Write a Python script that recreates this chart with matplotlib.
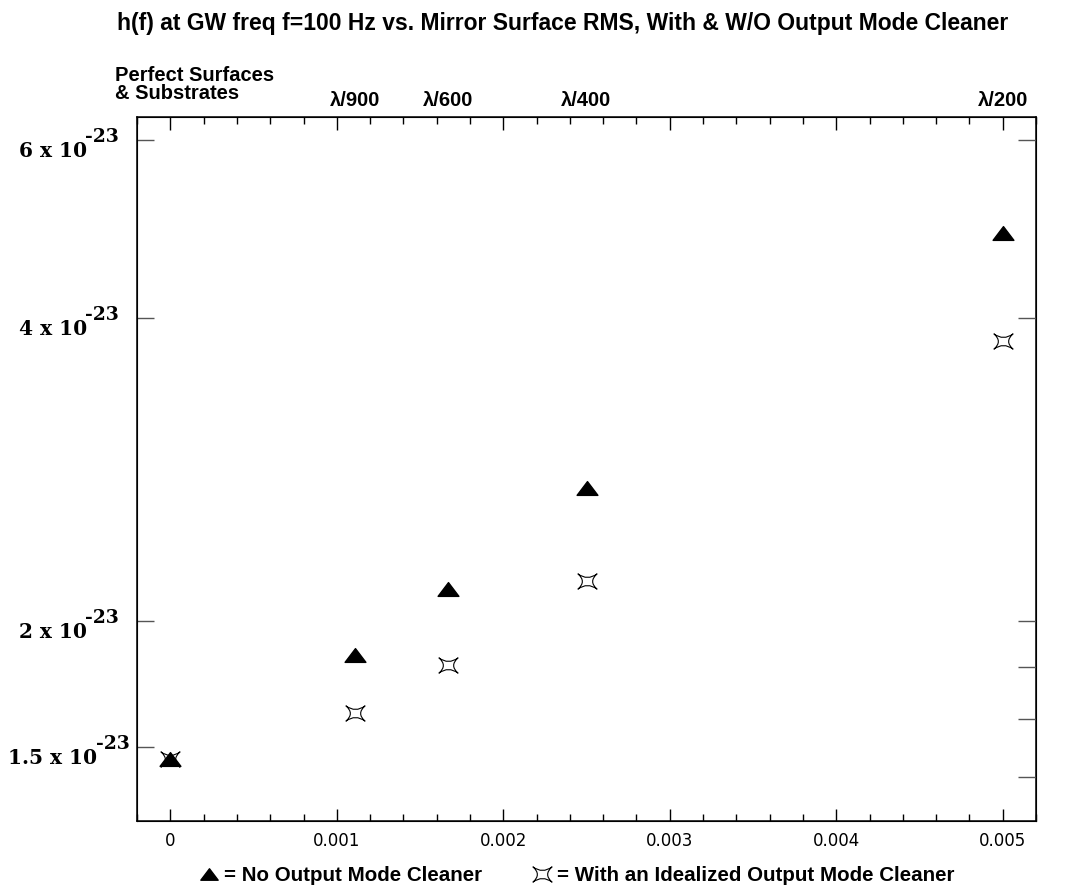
import numpy as np
import matplotlib.pyplot as plt
from matplotlib.path import Path
from matplotlib.lines import Line2D
from matplotlib.ticker import FixedLocator, MultipleLocator, NullLocator, NullFormatter

# data (surface RMS in units of lambda, h(f) strain)
rms = [0.0, 0.00111, 0.00167, 0.0025, 0.005]
h_no_omc = [1.46e-23, 1.85e-23, 2.15e-23, 2.71e-23, 4.85e-23]
h_omc = [1.46e-23, 1.62e-23, 1.81e-23, 2.19e-23, 3.79e-23]

top_pos = [0.00111, 0.00167, 0.0025, 0.005]
top_labels = ['λ/900', 'λ/600', 'λ/400', 'λ/200']

ytick_vals = [1.5e-23, 2e-23, 4e-23, 6e-23]
ytick_main = ['1.5 x 10', '2 x 10', '4 x 10', '6 x 10']
right_ticks = [1.4e-23, 1.6e-23, 1.8e-23, 2e-23, 4e-23, 6e-23]

# marker shapes: flat triangle and a four-pointed star with concave sides
tri = Path([(-1, -0.66), (1, -0.66), (0, 0.66), (-1, -0.66)],
           [Path.MOVETO, Path.LINETO, Path.LINETO, Path.CLOSEPOLY])
star = Path([(1, 0.8), (0, 0.05), (-1, 0.8), (-0.08, 0), (-1, -0.8),
             (0, -0.05), (1, -0.8), (0.08, 0), (1, 0.8), (1, 0.8)],
            [Path.MOVETO, Path.CURVE3, Path.CURVE3, Path.CURVE3, Path.CURVE3,
             Path.CURVE3, Path.CURVE3, Path.CURVE3, Path.CURVE3, Path.CLOSEPOLY])

fig = plt.figure(figsize=(10.74, 8.94), dpi=100)
ax = fig.add_axes([0.1276, 0.082, 0.837, 0.7866])

ax.plot(rms, h_omc, linestyle='none', marker=star, markersize=13.7,
        markerfacecolor='white', markeredgecolor='black', markeredgewidth=0.8)
ax.plot(rms, h_no_omc, linestyle='none', marker=tri, markersize=15,
        markerfacecolor='black', markeredgecolor='black')

ax.set_yscale('log')
ax.set_xlim(-0.0002, 0.0052)
ax.set_ylim(1.267e-23, 6.32e-23)

for s in ax.spines.values():
    s.set_linewidth(1.1)

# x ticks (bottom and top)
ax.xaxis.set_major_locator(MultipleLocator(0.001))
ax.xaxis.set_minor_locator(MultipleLocator(0.0002))
ax.xaxis.set_major_formatter(plt.FuncFormatter(lambda v, p: '0' if abs(v) < 1e-9 else '%.3f' % v))
ax.tick_params(axis='x', which='both', direction='in', top=True, bottom=True, width=1)
ax.tick_params(axis='x', which='major', length=9, pad=8, labelsize=12)
ax.tick_params(axis='x', which='minor', length=5)

# y ticks left, labels drawn by hand
ax.yaxis.set_major_locator(FixedLocator(ytick_vals))
ax.yaxis.set_minor_locator(NullLocator())
ax.yaxis.set_major_formatter(NullFormatter())
ax.yaxis.set_minor_formatter(NullFormatter())
ax.tick_params(axis='y', which='major', direction='in', length=12, width=1, color='#555555')

for v, main in zip(ytick_vals, ytick_main):
    lab = ax.annotate(main, xy=(0, v), xycoords=ax.get_yaxis_transform(),
                      xytext=(-84, -17), textcoords='offset pixels',
                      ha='center', va='baseline', fontfamily='DejaVu Serif',
                      fontweight='bold', fontsize=14.5)
    ax.annotate('-23', xy=(1, 0), xycoords=lab, xytext=(-2, 19),
                textcoords='offset pixels', ha='left', va='baseline',
                fontfamily='DejaVu Serif', fontweight='bold', fontsize=13.5)

# right axis ticks
ax2 = ax.twinx()
ax2.set_yscale('log')
ax2.set_ylim(ax.get_ylim())
ax2.yaxis.set_major_locator(FixedLocator(right_ticks))
ax2.yaxis.set_minor_locator(NullLocator())
ax2.yaxis.set_major_formatter(NullFormatter())
ax2.yaxis.set_minor_formatter(NullFormatter())
ax2.tick_params(axis='y', which='major', direction='in', length=13, width=1, color='#555555')

# top labels
for p, lbl in zip(top_pos, top_labels):
    ax.text(p, 1.016, lbl, transform=ax.get_xaxis_transform(), ha='center',
            va='baseline', fontfamily='Liberation Sans', fontweight='bold', fontsize=14.5)
ax.text(-0.00033, 1.026, 'Perfect Surfaces\n& Substrates', transform=ax.get_xaxis_transform(),
        ha='left', va='baseline', fontfamily='Liberation Sans', fontweight='bold',
        fontsize=14.5, linespacing=0.95)

fig.text(0.524, 0.974, 'h(f) at GW freq f=100 Hz vs. Mirror Surface RMS, With & W/O Output Mode Cleaner',
         ha='center', va='center', fontfamily='Liberation Sans', fontweight='bold', fontsize=16.5)

handles = [Line2D([], [], linestyle='none', marker=tri, markersize=12.5, color='black'),
           Line2D([], [], linestyle='none', marker=star, markersize=13.7, markerfacecolor='white',
                  markeredgecolor='black', markeredgewidth=0.8)]
fig.legend(handles, ['= No Output Mode Cleaner', '= With an Idealized Output Mode Cleaner'],
           loc='center', bbox_to_anchor=(0.537, 0.021), ncol=2, frameon=False,
           handlelength=1.0, handletextpad=0.25, columnspacing=2.4,
           prop={'family': 'Liberation Sans', 'weight': 'bold', 'size': 14.8})

fig.savefig('out.png', dpi=100)
